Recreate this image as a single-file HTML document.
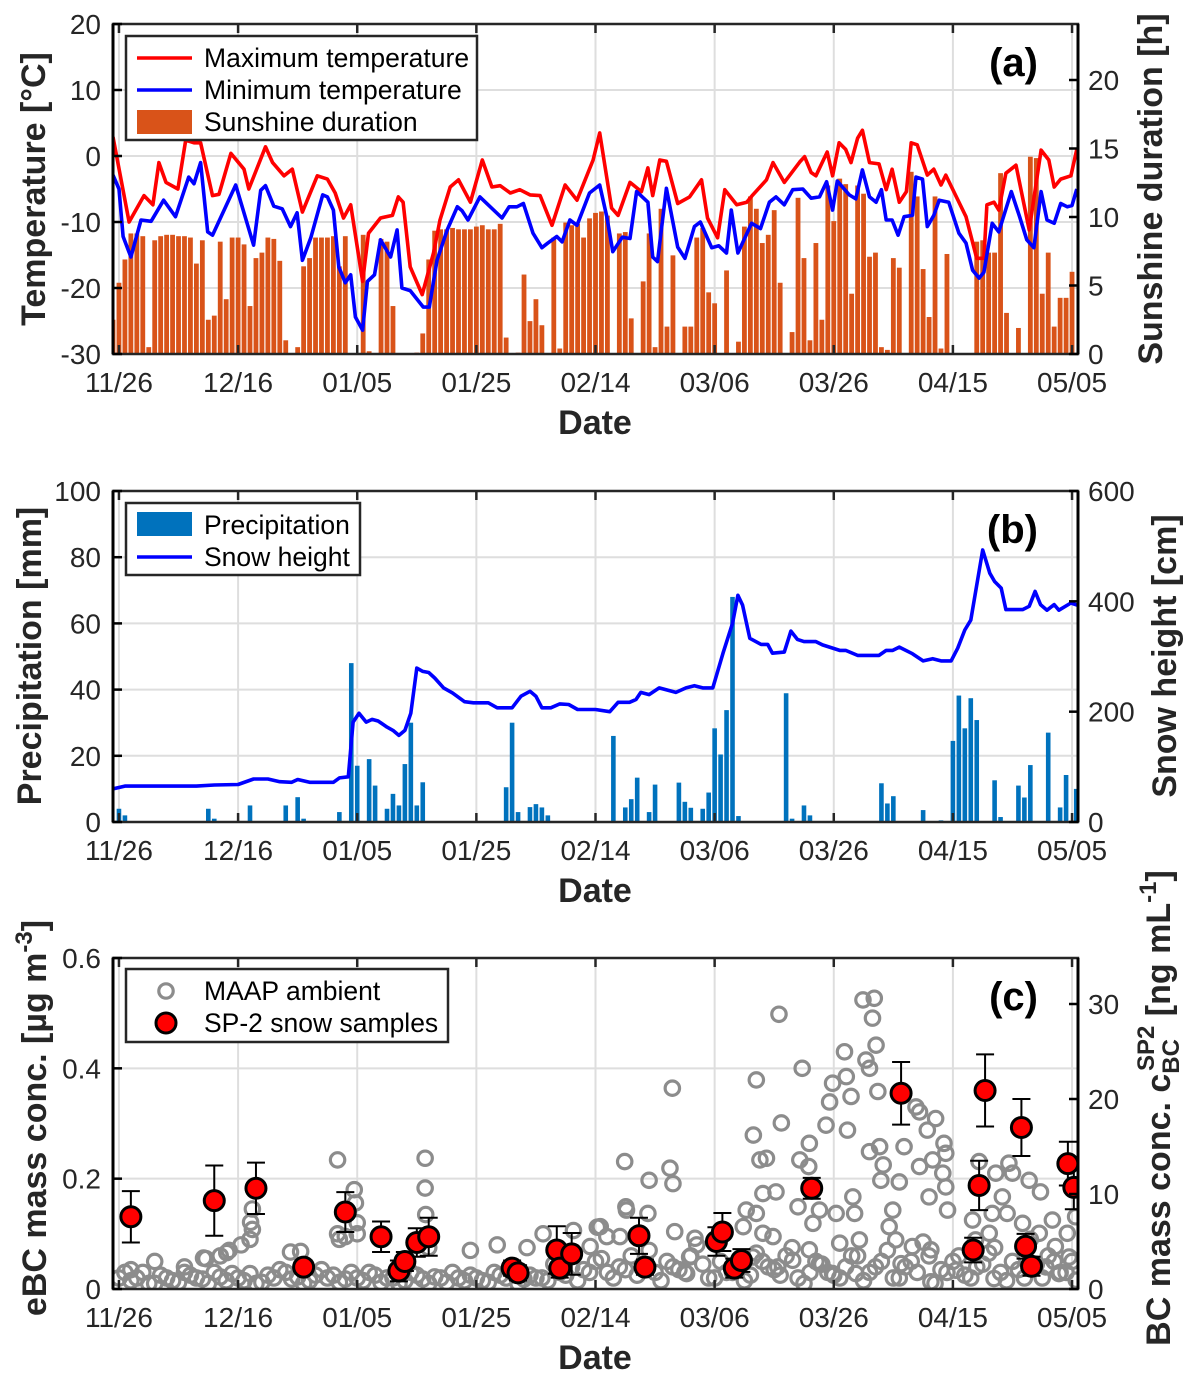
<!DOCTYPE html>
<html><head><meta charset="utf-8"><style>
html,body{margin:0;padding:0;background:#fff}
svg{display:block;font-family:"Liberation Sans",Arial,sans-serif}
</style></head><body>
<svg id="fig" width="1199" height="1381" viewBox="0 0 1199 1381" xmlns="http://www.w3.org/2000/svg"></svg>
<script>
// ---------- shared x axis ----------
const xTickDays = [0,20,40,60,80,100,120,140,160];
const xTickLabels = ['11/26','12/16','01/05','01/25','02/14','03/06','03/26','04/15','05/05'];
// ---------- panel (a) data ----------
const tmaxDays=[-1,1.7,4.2,5.7,6.7,7.9,9.9,11.2,12.6,13.7,15.7,16.8,18.8,21,21.8,24.6,25.8,27.7,29.1,30.8,33.3,35,36.3,37.7,38.9,40.9,41.9,43.9,45.9,46.9,47.7,48.9,50.9,52.8,53.9,55.6,57,59,61,62.6,64,65.7,67.3,69,70.7,72.7,74.9,76.9,79.6,80.7,82.7,83.8,85.8,87.7,88.8,89.6,90.8,91.9,93.8,95.8,97.8,98.8,100.5,101.7,103.7,105.4,106.4,108.7,109.8,111.7,114.3,115.1,116.2,117,118.9,119.8,120.9,122,122.9,124,124.8,126,127.6,128.8,129.8,131,132.2,133,134,135.7,136.8,138,138.8,142.2,144,145.2,145.7,146.9,147.7,148.9,150.6,152.8,154.8,156.1,157,158.1,159.8,160.8];
const tmaxVals=[2.9,-10,-6,-7.4,-1,-4,-5,2.4,2,2,-6,-5.8,0.4,-2,-5,1.4,-1,-3,-2,-8.5,-3,-3.5,-5.6,-9.4,-7.4,-19,-11.7,-9.4,-9,-6.2,-7,-16.8,-21,-14.7,-9.7,-4.7,-3.6,-7,-0.6,-4.7,-4.5,-5.6,-5.1,-5.9,-6,-10.5,-4.4,-6.7,-0.6,3.5,-7.9,-9,-4,-5.4,-1.8,-6,-0.6,-0.8,-7.2,-6.2,-3.6,-9.4,-12.4,-5.1,-7.4,-7,-5.9,-3.6,-1,-4,-0.9,-0.1,-2.5,-3,0.6,-3,2,1,-1,2.7,3.9,-1,-1.2,-5.1,-2,-7,-5.4,2,1.7,-2.9,-2,-4.4,-2.9,-9.2,-15.5,-15.5,-7.4,-7,-8.2,-2.6,-1.4,-11.2,0.9,-0.6,-4.7,-3.5,-3,1];
const tminDays=[-1,0,0.7,2,3.7,5.4,7.5,9.5,11.7,12.6,13.7,14.9,15.7,19.6,22.6,23.8,24.6,26,27.4,28.8,29.9,30.8,32.2,34.2,35,36,36.9,38,38.9,39.7,40.9,41.7,42.9,43.9,45.6,46.7,47.5,48.9,51.1,52.1,53.4,55.1,56.8,57.6,58.6,60.6,64.3,65.5,66.8,67.9,69.5,71,72,73.5,74.4,75.7,76.9,79,80.7,81.9,82.9,84.5,85.8,86.9,88.8,89.6,90.4,91.9,93.8,95,96.6,97.6,99.5,100.7,102,102.8,103.9,106.2,107.7,109.2,110.3,111.7,113.1,114.8,116.2,117.6,118.8,119.8,120.6,122.6,123.7,124.8,126,127.1,128,128.8,129.8,130.8,131.8,133.2,133.8,134.9,135.7,136.8,137.7,139.3,141,142.2,143.3,144.4,145.2,146.6,147.7,149.8,151.2,152.4,153.6,154.8,155.8,157,158.1,159.2,160,160.8];
const tminVals=[-2.9,-5,-12.2,-15.3,-9.7,-9.9,-6.7,-9.2,-3.2,-4.2,-1,-11.5,-12,-4.4,-13.5,-5.2,-4.5,-7.6,-8,-10.7,-8.6,-15.8,-12.4,-5.9,-6.2,-8.2,-16.8,-19.2,-18,-24.4,-26.4,-19,-18,-12.7,-15.3,-11.2,-20,-20.4,-22.9,-22.9,-15.8,-11.2,-7.7,-8.3,-9.7,-6.2,-9.4,-7.7,-7.7,-7.2,-11.7,-13.9,-13.2,-12.2,-13,-9.7,-10.5,-5.6,-4.4,-9.2,-14.5,-12.3,-12.5,-5.4,-7,-15.3,-16,-4.9,-13.8,-15.5,-10.7,-10,-13.9,-13.6,-14.7,-8.2,-14.7,-10.2,-11,-7,-6.2,-7.4,-5.1,-5,-6.4,-6.2,-3.9,-8.2,-3.8,-5.9,-6.5,-2.1,-6.2,-7,-5.1,-9.7,-9.7,-12,-9.2,-9,-3.2,-3.5,-10.7,-9,-6.7,-7,-11.7,-13.2,-17.3,-18.5,-17.6,-10.2,-11.5,-5.4,-9.2,-12.7,-13.9,-5.4,-9.7,-10.2,-7.2,-7.7,-7.5,-5];
const sunStartDay = -1;
const sunHours=[2.5,5.2,6.9,8.8,8.8,8.6,0.5,8.3,8.6,8.7,8.7,8.6,8.6,8.5,6.6,8.3,2.5,2.8,8.2,4,8.5,8.5,8.0,3.5,7,7.4,8.5,8.4,6.8,1,0,0.5,6.4,7.0,8.5,8.5,8.5,8.6,6.4,8.6,0,0,8.7,0.2,0,8.4,8.2,3.5,0,0,0,0.1,1.5,6.9,9.0,9.1,9.1,9.2,9.1,9.1,9.1,9.3,9.4,9.1,9.1,9.5,1.2,0,0.1,5.8,2.4,4,2.1,0,8.5,0.4,9.6,9.4,9.5,8.5,9.9,10.3,10.4,10.1,0,8.8,8.9,2.6,0,5.3,8.8,0.5,10.6,2,7.2,0,2,2,8.5,9.2,4.5,3.7,0,6.1,0,0.9,9.3,11.5,10.6,8.1,8.7,10.5,5.2,0,1.6,11.4,7.0,1,8.1,2.5,12.3,9.7,12.8,12.4,4.4,12.3,11.7,7.1,7.4,0.5,0.3,7.0,6.3,0,13.3,11.5,6.2,2.7,11.5,0.4,7.3,0,0,0,0,8.2,8.3,7.4,7.4,13.2,3,0,1.9,0,14.4,14.3,4.4,7.4,2,4.1,4.1,6];
const aLeftTicks=[-30,-20,-10,0,10,20];
const aRightTicks=[0,5,10,15,20];
// ---------- panel (b) data ----------
const precDays=[0,1,15,16,22,28,30,31,37,39,40,42,43,45,46,47,48,49,50,51,65,66,67,69,70,71,72,83,85,86,87,89,90,94,95,96,98,99,100,101,102,103,104,112,113,115,116,128,129,130,135,138,140,141,142,143,144,147,148,151,152,153,156,158,159,160.7];
const precVals=[4,2,4,1,5,5,7.5,1,3,48,17,19,11,4,8.5,5,17.5,30,5,12,10.5,30,3,4.5,5.4,4.4,2,26,4.4,6.9,13.4,3,11.3,11.9,6.1,4.3,4,8.9,28.3,20.4,33.8,68,1.8,38.9,1,5,2,11.7,5.6,7.8,3.6,0.5,24.5,38.2,28.3,37.4,30.8,12.6,1.5,11,7.4,17.2,27,4.4,14.2,10];
const snowDays=[-1,1,13,16,20,22.6,25,27,29,30,32,36,37,38.5,39.3,40.3,41.5,42.5,43.5,45,46,47,48,49,50,51,52,53,54.5,56,58,59.5,62,63.5,66,67.5,69,70,71,72.5,74,75.5,77,80,82.4,83.8,85.7,86.8,87.6,89,90.7,93.5,95.2,96.6,98,99.7,101.4,103,103.9,104.7,105.9,107.8,108.9,109.7,111.7,112.8,113.9,115,117,118.1,121,122,124,127.6,128.8,129.9,131,133.2,135,136.6,138,139.7,140.8,142,143,145,146.2,147,148.1,148.9,151.7,152.8,153.8,154.7,155.8,157,157.8,159.8,160.9];
const snowVals=[60,65,65,67,68,78,78,73,72,77,72,72,80,82,181,197,181,186,183,172,166,157,166,197,279,273,271,261,243,234,218,216,216,207,207,228,237,228,207,207,214,213,204,204,200,217,217,222,235,231,243,235,243,247,243,243,306,360,411,393,333,322,322,306,308,346,331,327,327,321,311,311,302,302,311,311,317,305,292,296,292,292,315,348,366,493,451,436,424,385,385,391,418,394,384,394,384,397,393];
const bLeftTicks=[0,20,40,60,80,100];
const bRightTicks=[0,200,400,600];
// ---------- panel (c) data ----------
const maapBaseAStart=0;
const maapBaseA=[0.02,0.015,0.03,0.01,0.02,0.012,0.025,0.018,0.03,0.015,0.02,0.028,0.012,0.02,0.03,0.022,0.015,0.035,0.025,0.018,0.02,0.03,0.012,0.02,0.015,0.025,0.01,0.02,0.03,0.015,0.02,0.012,0.025,0.03,0.018,0.02,0.015,0.03,0.04,0.035,0.05,0.03,0.04,0.06,0.045,0.03,0.05,0.035,0.06,0.045,0.02,0.03,0.04,0.025,0.05,0.035,0.06,0.02,0.03,0.045,0.025,0.04,0.06,0.03,0.05,0.02,0.04,0.03,0.06,0.035,0.05,0.025,0.04,0.065,0.03,0.05,0.02,0.045,0.06,0.03,0.05];
const maapBaseBStart=1;
const maapBaseB=[0.03,0.02,0.01,0.025,0.015,0.03,0.02,0.01,0.022,0.028,0.015,0.01,0.025,0.035,0.018,0.01,0.025,0.02,0.012,0.03,0.015,0.025,0.02,0.01,0.03,0.018,0.022,0.012,0.02,0.025,0.015,0.03,0.02,0.01,0.025,0.02,0.045,0.025,0.015,0.03,0.055,0.02,0.035,0.025,0.07,0.015,0.04,0.03,0.08,0.02,0.05,0.03,0.015,0.065,0.04,0.025,0.075,0.01,0.05,0.03,0.02,0.06,0.015,0.04,0.07,0.02,0.05,0.085,0.01,0.03,0.06,0.02,0.045,0.075,0.015,0.035,0.09,0.02,0.05,0.03];
const maapDays=[2,6,11,14.2,14.6,17,18.1,18.5,20.5,22,22.1,22.4,22.4,28.8,30.5,36.7,36.7,37,38,39.5,39.7,40,40,51.4,51.4,51.5,52,59,63.5,68.5,71.2,76.3,80.3,84.9,89,92.5,93,92.9,85.1,93.3,107,106.5,107.6,108.7,108.1,110.3,110.8,111.2,114.7,114.3,115.9,115.8,118.7,119.3,119.8,121.8,122.1,122.9,122.3,124.9,126.8,126.5,127.1,125.4,126,127.4,126,127.7,127.9,128.3,131.8,133.8,134.4,135.7,137.1,138.5,138.8,136.6,134.4,138.3,138.8,139.1,136,131,129.9,129.3,130.4,131.3,133.2,136.3,144.4,147.2,149.4,150,152.8,154.7,148.3,149.1,146.6,143.3,156.7,159.2,160.6,160.7,123.2,123.5,124.3,123.7,120.4,121,116.5,117.6,114,108.1,107,105.3,104.8,109.8,106.4,110.6,113.1,115.9,117.6,119.8,88.8,85.2,84.1,80.8,81.9,79.1,96.7,95.8,95.3,136.3,146.9,140.5,143.8,146.1,151.7,154.5,157.2,159.5,155.6,157.8];
const maapVals=[0.035,0.05,0.04,0.056,0.055,0.06,0.066,0.07,0.08,0.09,0.121,0.108,0.145,0.067,0.068,0.234,0.1,0.09,0.095,0.18,0.156,0.12,0.1,0.237,0.183,0.135,0.075,0.07,0.08,0.075,0.1,0.106,0.112,0.231,0.197,0.219,0.191,0.364,0.149,0.104,0.379,0.279,0.234,0.237,0.173,0.176,0.498,0.301,0.4,0.234,0.264,0.222,0.297,0.339,0.373,0.43,0.385,0.349,0.288,0.524,0.527,0.491,0.442,0.415,0.4,0.358,0.249,0.258,0.197,0.225,0.258,0.33,0.321,0.288,0.309,0.264,0.246,0.234,0.222,0.21,0.185,0.143,0.167,0.194,0.143,0.113,0.089,0.046,0.077,0.071,0.231,0.21,0.228,0.21,0.197,0.176,0.167,0.137,0.137,0.125,0.125,0.101,0.131,0.016,0.167,0.137,0.089,0.028,0.137,0.083,0.119,0.143,0.149,0.101,0.137,0.143,0.113,0.095,0.058,0.04,0.052,0.071,0.046,0.028,0.137,0.143,0.095,0.113,0.095,0.077,0.092,0.058,0.028,0.013,0.019,0.034,0.089,0.101,0.119,0.101,0.077,0.058,0.04,0.028];
const sp2Days=[2,16,23,31,38,44,47,48,50,52,66,67,73.5,74,76,87.3,88.3,100.3,101.3,103.3,104.5,116.3,131.3,143.4,144.4,145.4,151.5,152.2,153.2,159.3,160.3];
const sp2Vals=[7.6,9.3,10.6,2.3,8.1,5.5,1.9,2.9,4.9,5.5,2.2,1.7,4.1,2.2,3.7,5.6,2.3,5.0,6.0,2.2,3.0,10.6,20.6,4.1,10.9,20.9,17.0,4.5,2.4,13.2,10.7];
const sp2Err=[2.7,3.7,2.7,0.7,2.1,1.6,1.1,1.0,1.5,2.0,0.8,0.8,2.5,1.0,2.2,1.9,0.8,1.5,2.0,1.0,1.2,1.1,3.3,1.3,2.6,3.8,3.0,1.3,1.0,2.3,2.3];
const cLeftTicks=[0,0.2,0.4,0.6];
const cLeftLabels=['0','0.2','0.4','0.6'];
const cRightTicks=[0,10,20,30];

// ---------- drawing ----------
const NS='http://www.w3.org/2000/svg';
const svg=document.getElementById('fig');
function el(tag,attrs,parent){const e=document.createElementNS(NS,tag);for(const k in attrs)e.setAttribute(k,attrs[k]);(parent||svg).appendChild(e);return e;}
const X0=113,X1=1078,DMIN=-1,DMAX=161;
const xs=d=>X0+(d-DMIN)*(X1-X0)/(DMAX-DMIN);
const TICKFS=28, LEGFS=26.5, TITLEFS=34;

function frame(p){
  const g=el('g',{});
  
  
  xTickDays.forEach(d=>{const l=el('line',{x1:xs(d),x2:xs(d),y1:p.top,y2:p.bottom,stroke:'#dedede','stroke-width':2},g);});
  p.leftTicks.forEach(v=>{const l=el('line',{x1:X0,x2:X1,y1:p.yL(v),y2:p.yL(v),stroke:'#dedede','stroke-width':2},g);});
  return g;
}
function axesOverlay(p){
  const g=el('g',{});
  
  
  el('rect',{x:X0,y:p.top,width:X1-X0,height:p.bottom-p.top,fill:'none',stroke:'#262626','stroke-width':2.5},g);
  xTickDays.forEach((d,i)=>{
    el('line',{x1:xs(d),x2:xs(d),y1:p.bottom,y2:p.bottom-9,stroke:'#262626','stroke-width':2.5},g);
    el('line',{x1:xs(d),x2:xs(d),y1:p.top,y2:p.top+9,stroke:'#262626','stroke-width':2.5},g);
    const t=el('text',{x:xs(d),y:p.bottom+38,'font-size':TICKFS,'text-anchor':'middle',fill:'#262626'},g);
    t.textContent=xTickLabels[i];
    
    
  });
  p.leftTicks.forEach((v,i)=>{
    el('line',{x1:X0,x2:X0+9,y1:p.yL(v),y2:p.yL(v),stroke:'#000','stroke-width':2.5},g);
    const t=el('text',{x:101,y:p.yL(v)+10,'font-size':TICKFS,'text-anchor':'end',fill:'#262626'},g);
    t.textContent=p.leftLabels?p.leftLabels[i]:String(v);
    
    
  });
  p.rightTicks.forEach(v=>{
    el('line',{x1:X1,x2:X1-9,y1:p.yR(v),y2:p.yR(v),stroke:'#000','stroke-width':2.5},g);
    const t=el('text',{x:1088,y:p.yR(v)+10,'font-size':TICKFS,'text-anchor':'start',fill:'#262626'},g);
    t.textContent=String(v);
    
    
  });
  el('line',{x1:X0,x2:X0,y1:p.top,y2:p.bottom,stroke:'#000','stroke-width':3},g);
  el('line',{x1:X1,x2:X1,y1:p.top,y2:p.bottom,stroke:'#000','stroke-width':3},g);
  const dt=el('text',{x:595,y:p.bottom+80,'font-size':TITLEFS,'font-weight':'bold','text-anchor':'middle',fill:'#262626'},g);
  dt.textContent='Date';
  
  
  const pl=el('text',{x:1038,y:p.top+52,'font-size':40,'font-weight':'bold','text-anchor':'end',fill:'#000'},g);
  pl.textContent=p.label;
  
  
}
function clip(id,top,bottom){const c=el('clipPath',{id:id});el('rect',{x:X0,y:top,width:X1-X0,height:bottom-top},c);}
function polyline(days,vals,fx,fy,color,parent){
  const n=Math.min(days.length,vals.length);let d='';
  for(let i=0;i<n;i++)d+=(i?'L':'M')+fx(days[i]).toFixed(1)+','+fy(vals[i]).toFixed(1);
  return el('path',{d:d,fill:'none',stroke:color,'stroke-width':3.6,'stroke-linejoin':'round'},parent);
}
function vtitle(x,y,size,parent){return el('text',{x:x,y:y,'font-size':size,'font-weight':'bold','text-anchor':'middle',fill:'#262626',transform:'rotate(-90 '+x+' '+y+')'},parent);}

// ===== Panel A =====
const A={top:24,bottom:354,name:'panel-a',label:'(a)',leftTicks:aLeftTicks,rightTicks:aRightTicks,
  yL:v=>354-(v+30)*330/50, yR:h=>354-h*13.7};
frame(A);
clip('ca',A.top,A.bottom);
const ga=el('g',{'clip-path':'url(#ca)'});


sunHours.forEach((h,i)=>{
  const d=sunStartDay+i;
  if(h<=0)return;
  const r=el('rect',{x:xs(d)-2.4,y:A.yR(h),width:4.8,height:A.bottom-A.yR(h),fill:'#D95319'},ga);
  
  
});
const lmax=polyline(tmaxDays,tmaxVals,xs,A.yL,'#FF0000',ga);


const lmin=polyline(tminDays,tminVals,xs,A.yL,'#0000FF',ga);


axesOverlay(A);
{
 const lg=el('g',{});
 
 
 el('rect',{x:126,y:36,width:351,height:104,fill:'#fff',stroke:'#262626','stroke-width':2.5},lg);
 el('line',{x1:137,x2:192,y1:58,y2:58,stroke:'#FF0000','stroke-width':3.6},lg);
 el('line',{x1:137,x2:192,y1:90,y2:90,stroke:'#0000FF','stroke-width':3.6},lg);
 el('rect',{x:137,y:110,width:55,height:24,fill:'#D95319'},lg);
 [['Maximum temperature',67],['Minimum temperature',99],['Sunshine duration',131]].forEach(([s,y])=>{const t=el('text',{x:204,y:y,'font-size':LEGFS,fill:'#000'},lg);t.textContent=s;});
}
{const t=vtitle(45,189,TITLEFS);t.textContent='Temperature [°C]';}
{const t=vtitle(1162,189,TITLEFS);t.textContent='Sunshine duration [h]';}

// ===== Panel B =====
const B={top:491,bottom:822,name:'panel-b',label:'(b)',leftTicks:bLeftTicks,rightTicks:bRightTicks,
  yL:v=>822-v*331/100, yR:s=>822-s*331/600};
frame(B);
clip('cb',B.top,B.bottom);
const gb=el('g',{'clip-path':'url(#cb)'});


precDays.forEach((d,i)=>{
  const v=precVals[i];
  const r=el('rect',{x:xs(d)-2.3,y:B.yL(v),width:4.6,height:B.bottom-B.yL(v),fill:'#0072BD'},gb);
  
  
});
const ls=polyline(snowDays,snowVals,xs,B.yR,'#0000FF',gb);


axesOverlay(B);
{
 const lg=el('g',{});
 
 
 el('rect',{x:126,y:503,width:234,height:72,fill:'#fff',stroke:'#262626','stroke-width':2.5},lg);
 el('rect',{x:137,y:512,width:55,height:24,fill:'#0072BD'},lg);
 el('line',{x1:137,x2:192,y1:557,y2:557,stroke:'#0000FF','stroke-width':3.6},lg);
 [['Precipitation',534],['Snow height',566]].forEach(([s,y])=>{const t=el('text',{x:204,y:y,'font-size':LEGFS,fill:'#000'},lg);t.textContent=s;});
}
{const t=vtitle(41,656,TITLEFS);t.textContent='Precipitation [mm]';}
{const t=vtitle(1176,656,TITLEFS);t.textContent='Snow height [cm]';}

// ===== Panel C =====
const C={top:958,bottom:1289,name:'panel-c',label:'(c)',leftTicks:cLeftTicks,leftLabels:cLeftLabels,rightTicks:cRightTicks,
  yL:v=>1289-v*331/0.6, yR:s=>1289-s*9.5};
frame(C);
clip('cc',C.top,C.bottom);
const gc=el('g',{'clip-path':'url(#cc)'});


function maapCircle(d,v){
  const c=el('circle',{cx:xs(d),cy:C.yL(v),r:7.2,fill:'none',stroke:'#8c8c8c','stroke-width':3.2},gc);
  
  
}
maapBaseA.forEach((v,i)=>maapCircle(maapBaseAStart+2*i,v));
maapBaseB.forEach((v,i)=>maapCircle(maapBaseBStart+2*i,v));
maapDays.forEach((d,i)=>maapCircle(d,maapVals[i]));
sp2Days.forEach((d,i)=>{
  const x=xs(d),v=sp2Vals[i],e=sp2Err[i];
  const eg=el('g',{},gc);
  
  
  const yt=C.yR(v+e),yb=C.yR(Math.max(0,v-e));
  el('line',{x1:x,x2:x,y1:yt,y2:yb,stroke:'#000','stroke-width':2},eg);
  el('line',{x1:x-9,x2:x+9,y1:yt,y2:yt,stroke:'#000','stroke-width':2},eg);
  el('line',{x1:x-9,x2:x+9,y1:yb,y2:yb,stroke:'#000','stroke-width':2},eg);
});
sp2Days.forEach((d,i)=>{
  const c=el('circle',{cx:xs(d),cy:C.yR(sp2Vals[i]),r:10,fill:'#FF0000',stroke:'#000','stroke-width':3},gc);
  
  
});
axesOverlay(C);
{
 const lg=el('g',{});
 
 
 el('rect',{x:126,y:969,width:322,height:73,fill:'#fff',stroke:'#262626','stroke-width':2.5},lg);
 el('circle',{cx:166,cy:991,r:7.2,fill:'none',stroke:'#8c8c8c','stroke-width':3.2},lg);
 el('circle',{cx:166,cy:1023,r:10,fill:'#FF0000',stroke:'#000','stroke-width':3},lg);
 [['MAAP ambient',1000],['SP-2 snow samples',1032]].forEach(([s,y])=>{const t=el('text',{x:204,y:y,'font-size':LEGFS,fill:'#000'},lg);t.textContent=s;});
}
{
 const x=46,y=1118;
 const t=el('text',{x:x,y:y,'font-size':TITLEFS,'font-weight':'bold','text-anchor':'middle',fill:'#262626',transform:'rotate(-90 '+x+' '+y+')'});
 
 
 t.innerHTML='eBC mass conc. [µg m<tspan dy="-14" font-size="24">-3</tspan><tspan dy="14">]</tspan>';
}
{
 const x=1170,y=1108;
 const t=el('text',{x:x,y:y,'font-size':TITLEFS,'font-weight':'bold','text-anchor':'middle',fill:'#262626',transform:'rotate(-90 '+x+' '+y+')'});
 
 
 t.innerHTML='BC mass conc. c<tspan dy="9" font-size="24">BC</tspan><tspan dx="-32" dy="-25" font-size="24">SP2</tspan><tspan dy="16"> [ng mL</tspan><tspan dy="-14" font-size="24">-1</tspan><tspan dy="14">]</tspan>';
}
</script>
</body></html>
